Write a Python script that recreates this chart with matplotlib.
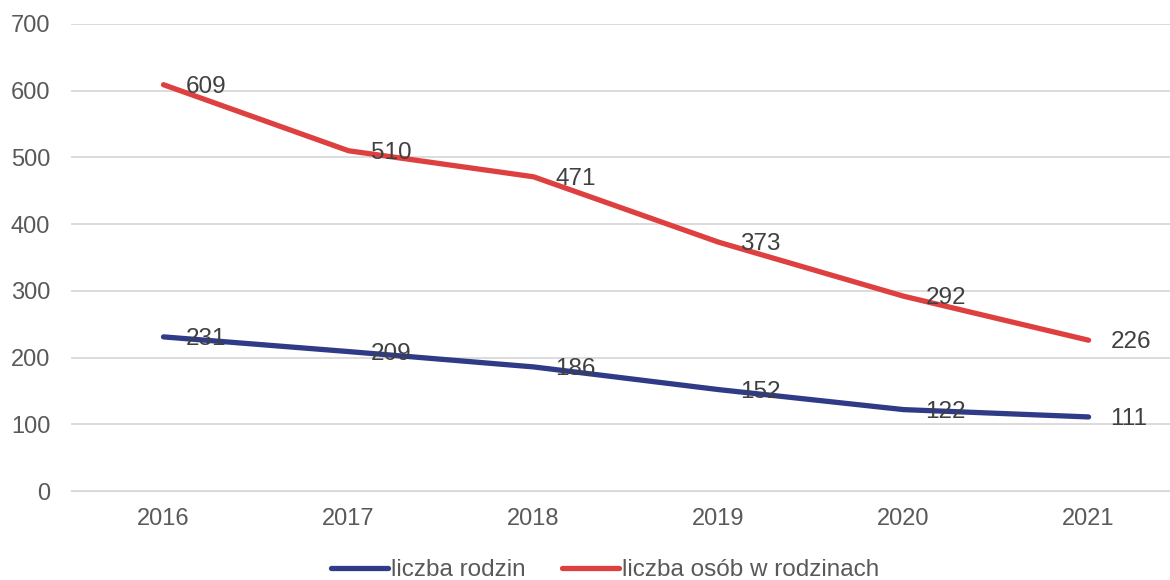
import matplotlib.pyplot as plt

plt.rcParams['font.family'] = ['Liberation Sans', 'DejaVu Sans']

years = ['2016', '2017', '2018', '2019', '2020', '2021']
rodziny = [231, 209, 186, 152, 122, 111]
osoby = [609, 510, 471, 373, 292, 226]

blue = '#2f3b87'
red = '#de4040'

fig = plt.figure(figsize=(11.7, 5.8), dpi=100)
ax = fig.add_axes([71 / 1170, 89 / 580, 1 - 71 / 1170, 467 / 580])

x = range(len(years))
ax.plot(x, rodziny, color=blue, lw=3.8, solid_capstyle='round', label='liczba rodzin', zorder=3)
ax.plot(x, osoby, color=red, lw=3.8, solid_capstyle='round', label='liczba osób w rodzinach', zorder=3)

# value labels just right of each point
for series in (rodziny, osoby):
    for xi, v in zip(x, series):
        ax.annotate(str(v), (xi, v), xytext=(22, -2), textcoords='offset pixels',
                    va='center', ha='left', fontsize=17.5, color='#404040', zorder=4)

ax.set_xlim(-0.5, 5.44)
ax.set_ylim(0, 700)
ax.set_yticks(range(0, 701, 100))
ax.set_xticks(list(x))
ax.set_xticklabels(years)
ax.grid(axis='y', color='#d9d9d9', lw=1.3)
ax.set_axisbelow(True)
for s in ax.spines.values():
    s.set_visible(False)
ax.spines['bottom'].set_visible(True)
ax.spines['bottom'].set_color('#d9d9d9')
ax.tick_params(length=0, labelsize=17, colors='#595959')
ax.tick_params(axis='x', pad=12)
ax.tick_params(axis='y', pad=15)

leg = ax.legend(loc='center', bbox_to_anchor=(0.486, -0.17), ncol=2, frameon=False,
                fontsize=17.5, handlelength=2.35, handletextpad=0.12, columnspacing=1.5)
for t in leg.get_texts():
    t.set_color('#595959')

fig.savefig('out.png', dpi=100)
